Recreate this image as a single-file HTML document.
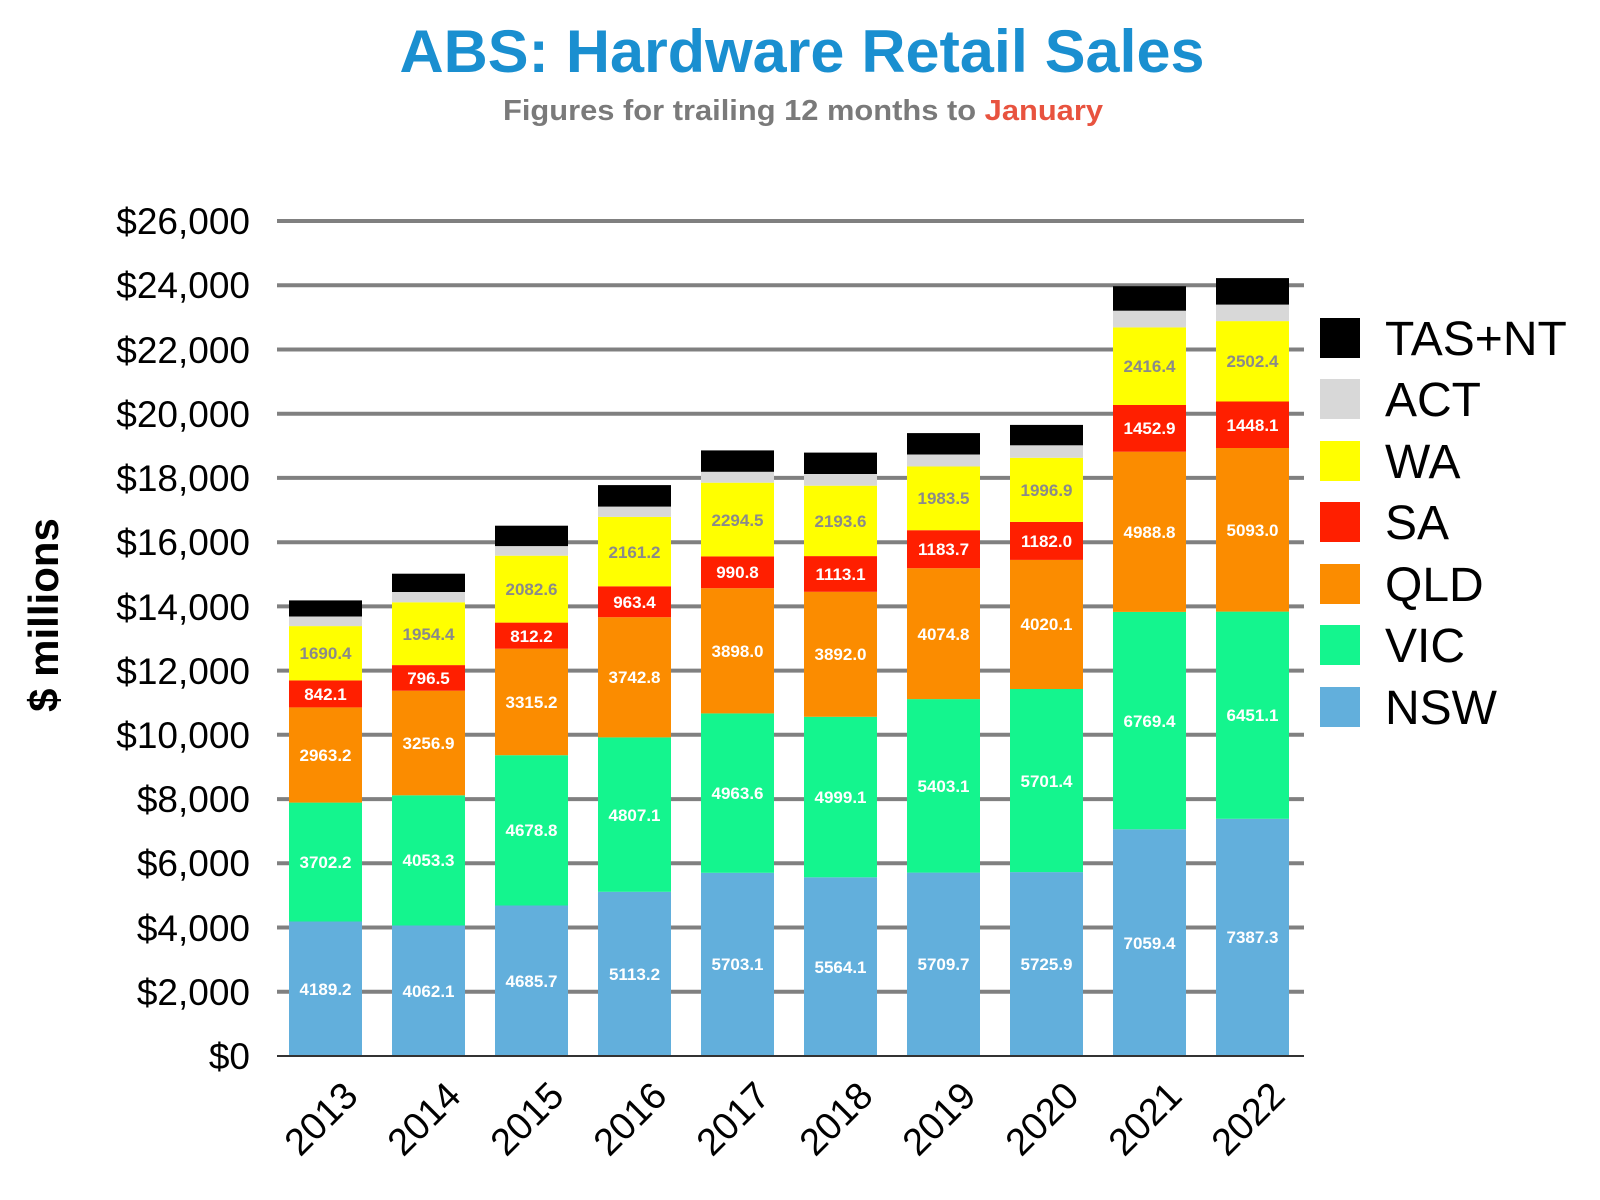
<!DOCTYPE html>
<html><head><meta charset="utf-8"><style>html,body{margin:0;padding:0;background:#fff}svg{display:block}</style></head>
<body>
<svg width="1600" height="1200" xmlns="http://www.w3.org/2000/svg" font-family="Liberation Sans, sans-serif">
<text x="802" y="72" text-anchor="middle" font-size="60" font-weight="bold" fill="#1a8fd0" textLength="805" lengthAdjust="spacingAndGlyphs">ABS: Hardware Retail Sales</text>
<text x="803" y="120" text-anchor="middle" font-size="29" font-weight="bold" fill="#7a7a7a" textLength="600" lengthAdjust="spacingAndGlyphs">Figures for trailing 12 months to <tspan fill="#e8533f">January</tspan></text>
<text transform="translate(58,615) rotate(-90)" text-anchor="middle" font-size="42" font-weight="bold" fill="#000">$ millions</text>
<g stroke="#808080" stroke-width="4">
<line x1="277" x2="1304" y1="991.8" y2="991.8"/><line x1="277" x2="1304" y1="927.5" y2="927.5"/><line x1="277" x2="1304" y1="863.3" y2="863.3"/><line x1="277" x2="1304" y1="799.1" y2="799.1"/><line x1="277" x2="1304" y1="734.8" y2="734.8"/><line x1="277" x2="1304" y1="670.6" y2="670.6"/><line x1="277" x2="1304" y1="606.4" y2="606.4"/><line x1="277" x2="1304" y1="542.2" y2="542.2"/><line x1="277" x2="1304" y1="477.9" y2="477.9"/><line x1="277" x2="1304" y1="413.7" y2="413.7"/><line x1="277" x2="1304" y1="349.5" y2="349.5"/><line x1="277" x2="1304" y1="285.2" y2="285.2"/><line x1="277" x2="1304" y1="221" y2="221"/>
</g>
<g font-size="37" fill="#000" text-anchor="end">
<text x="250" y="1069">$0</text><text x="250" y="1005">$2,000</text><text x="250" y="941">$4,000</text><text x="250" y="876">$6,000</text><text x="250" y="812">$8,000</text><text x="250" y="748">$10,000</text><text x="250" y="684">$12,000</text><text x="250" y="620">$14,000</text><text x="250" y="555">$16,000</text><text x="250" y="491">$18,000</text><text x="250" y="427">$20,000</text><text x="250" y="363">$22,000</text><text x="250" y="298">$24,000</text><text x="250" y="234">$26,000</text>
</g>
<g>
<rect x="289" y="921.5" width="73" height="134.5" fill="#62afdc"/><rect x="289" y="802.6" width="73" height="118.9" fill="#14f58e"/><rect x="289" y="707.4" width="73" height="95.2" fill="#fb8c00"/><rect x="289" y="680.4" width="73" height="27" fill="#ff1f00"/><rect x="289" y="626.1" width="73" height="54.3" fill="#ffff00"/><rect x="289" y="616.5" width="73" height="9.6" fill="#d8d8d8"/><rect x="289" y="600.4" width="73" height="16.1" fill="#000"/>
<rect x="392" y="925.5" width="73" height="130.5" fill="#62afdc"/><rect x="392" y="795.3" width="73" height="130.2" fill="#14f58e"/><rect x="392" y="690.7" width="73" height="104.6" fill="#fb8c00"/><rect x="392" y="665.1" width="73" height="25.6" fill="#ff1f00"/><rect x="392" y="602.3" width="73" height="62.8" fill="#ffff00"/><rect x="392" y="592" width="73" height="10.3" fill="#d8d8d8"/><rect x="392" y="573.7" width="73" height="18.3" fill="#000"/>
<rect x="495" y="905.5" width="73" height="150.5" fill="#62afdc"/><rect x="495" y="755.2" width="73" height="150.3" fill="#14f58e"/><rect x="495" y="648.7" width="73" height="106.5" fill="#fb8c00"/><rect x="495" y="622.6" width="73" height="26.1" fill="#ff1f00"/><rect x="495" y="555.7" width="73" height="66.9" fill="#ffff00"/><rect x="495" y="546.1" width="73" height="9.6" fill="#d8d8d8"/><rect x="495" y="525.7" width="73" height="20.4" fill="#000"/>
<rect x="598" y="891.8" width="73" height="164.2" fill="#62afdc"/><rect x="598" y="737.4" width="73" height="154.4" fill="#14f58e"/><rect x="598" y="617.2" width="73" height="120.2" fill="#fb8c00"/><rect x="598" y="586.3" width="73" height="30.9" fill="#ff1f00"/><rect x="598" y="516.9" width="73" height="69.4" fill="#ffff00"/><rect x="598" y="506.6" width="73" height="10.3" fill="#d8d8d8"/><rect x="598" y="485.1" width="73" height="21.5" fill="#000"/>
<rect x="701" y="872.8" width="73" height="183.2" fill="#62afdc"/><rect x="701" y="713.4" width="73" height="159.4" fill="#14f58e"/><rect x="701" y="588.2" width="73" height="125.2" fill="#fb8c00"/><rect x="701" y="556.4" width="73" height="31.8" fill="#ff1f00"/><rect x="701" y="482.7" width="73" height="73.7" fill="#ffff00"/><rect x="701" y="471.8" width="73" height="10.9" fill="#d8d8d8"/><rect x="701" y="450.4" width="73" height="21.4" fill="#000"/>
<rect x="804" y="877.3" width="73" height="178.7" fill="#62afdc"/><rect x="804" y="716.8" width="73" height="160.5" fill="#14f58e"/><rect x="804" y="591.8" width="73" height="125" fill="#fb8c00"/><rect x="804" y="556.1" width="73" height="35.7" fill="#ff1f00"/><rect x="804" y="485.7" width="73" height="70.4" fill="#ffff00"/><rect x="804" y="474" width="73" height="11.7" fill="#d8d8d8"/><rect x="804" y="452.6" width="73" height="21.4" fill="#000"/>
<rect x="907" y="872.6" width="73" height="183.4" fill="#62afdc"/><rect x="907" y="699.1" width="73" height="173.5" fill="#14f58e"/><rect x="907" y="568.2" width="73" height="130.9" fill="#fb8c00"/><rect x="907" y="530.2" width="73" height="38" fill="#ff1f00"/><rect x="907" y="466.5" width="73" height="63.7" fill="#ffff00"/><rect x="907" y="454.5" width="73" height="12" fill="#d8d8d8"/><rect x="907" y="433.1" width="73" height="21.4" fill="#000"/>
<rect x="1010" y="872.1" width="73" height="183.9" fill="#62afdc"/><rect x="1010" y="689" width="73" height="183.1" fill="#14f58e"/><rect x="1010" y="559.9" width="73" height="129.1" fill="#fb8c00"/><rect x="1010" y="521.9" width="73" height="38" fill="#ff1f00"/><rect x="1010" y="457.8" width="73" height="64.1" fill="#ffff00"/><rect x="1010" y="445.3" width="73" height="12.5" fill="#d8d8d8"/><rect x="1010" y="424.9" width="73" height="20.4" fill="#000"/>
<rect x="1113" y="829.3" width="73" height="226.7" fill="#62afdc"/><rect x="1113" y="611.9" width="73" height="217.4" fill="#14f58e"/><rect x="1113" y="451.7" width="73" height="160.2" fill="#fb8c00"/><rect x="1113" y="405" width="73" height="46.7" fill="#ff1f00"/><rect x="1113" y="327.4" width="73" height="77.6" fill="#ffff00"/><rect x="1113" y="310.7" width="73" height="16.7" fill="#d8d8d8"/><rect x="1113" y="286.2" width="73" height="24.5" fill="#000"/>
<rect x="1216" y="818.8" width="73" height="237.2" fill="#62afdc"/><rect x="1216" y="611.6" width="73" height="207.2" fill="#14f58e"/><rect x="1216" y="448" width="73" height="163.6" fill="#fb8c00"/><rect x="1216" y="401.5" width="73" height="46.5" fill="#ff1f00"/><rect x="1216" y="321.1" width="73" height="80.4" fill="#ffff00"/><rect x="1216" y="304.6" width="73" height="16.5" fill="#d8d8d8"/><rect x="1216" y="278.1" width="73" height="26.5" fill="#000"/>
</g>
<line x1="277" x2="1304" y1="1056" y2="1056" stroke="#333" stroke-width="2"/>
<g font-size="17" font-weight="bold" text-anchor="middle" fill="#fff">
<text x="325.5" y="995">4189.2</text><text x="325.5" y="868">3702.2</text><text x="325.5" y="761">2963.2</text><text x="325.5" y="700">842.1</text>
<text x="428.5" y="997">4062.1</text><text x="428.5" y="866">4053.3</text><text x="428.5" y="749">3256.9</text><text x="428.5" y="684">796.5</text>
<text x="531.5" y="987">4685.7</text><text x="531.5" y="836">4678.8</text><text x="531.5" y="708">3315.2</text><text x="531.5" y="642">812.2</text>
<text x="634.5" y="980">5113.2</text><text x="634.5" y="821">4807.1</text><text x="634.5" y="683">3742.8</text><text x="634.5" y="608">963.4</text>
<text x="737.5" y="970">5703.1</text><text x="737.5" y="799">4963.6</text><text x="737.5" y="657">3898.0</text><text x="737.5" y="578">990.8</text>
<text x="840.5" y="973">5564.1</text><text x="840.5" y="803">4999.1</text><text x="840.5" y="660">3892.0</text><text x="840.5" y="580">1113.1</text>
<text x="943.5" y="970">5709.7</text><text x="943.5" y="792">5403.1</text><text x="943.5" y="640">4074.8</text><text x="943.5" y="555">1183.7</text>
<text x="1046.5" y="970">5725.9</text><text x="1046.5" y="787">5701.4</text><text x="1046.5" y="630">4020.1</text><text x="1046.5" y="547">1182.0</text>
<text x="1149.5" y="949">7059.4</text><text x="1149.5" y="727">6769.4</text><text x="1149.5" y="538">4988.8</text><text x="1149.5" y="434">1452.9</text>
<text x="1252.5" y="943">7387.3</text><text x="1252.5" y="721">6451.1</text><text x="1252.5" y="536">5093.0</text><text x="1252.5" y="431">1448.1</text>
</g>
<g font-size="17" font-weight="bold" text-anchor="middle" fill="#8a8a8a">
<text x="325.5" y="659">1690.4</text><text x="428.5" y="640">1954.4</text><text x="531.5" y="595">2082.6</text><text x="634.5" y="558">2161.2</text><text x="737.5" y="526">2294.5</text><text x="840.5" y="527">2193.6</text><text x="943.5" y="504">1983.5</text><text x="1046.5" y="496">1996.9</text><text x="1149.5" y="372">2416.4</text><text x="1252.5" y="367">2502.4</text>
</g>
<g font-size="38" fill="#000" text-anchor="end">
<text transform="translate(360,1098) rotate(-45)">2013</text>
<text transform="translate(463,1098) rotate(-45)">2014</text>
<text transform="translate(566,1098) rotate(-45)">2015</text>
<text transform="translate(669,1098) rotate(-45)">2016</text>
<text transform="translate(772,1098) rotate(-45)">2017</text>
<text transform="translate(875,1098) rotate(-45)">2018</text>
<text transform="translate(978,1098) rotate(-45)">2019</text>
<text transform="translate(1081,1098) rotate(-45)">2020</text>
<text transform="translate(1184,1098) rotate(-45)">2021</text>
<text transform="translate(1287,1098) rotate(-45)">2022</text>
</g>
<g>
<rect x="1320" y="318" width="40" height="40" fill="#000"/>
<rect x="1320" y="379" width="40" height="40" fill="#d8d8d8"/>
<rect x="1320" y="441" width="40" height="40" fill="#ffff00"/>
<rect x="1320" y="502" width="40" height="40" fill="#ff1f00"/>
<rect x="1320" y="564" width="40" height="40" fill="#fb8c00"/>
<rect x="1320" y="625" width="40" height="40" fill="#14f58e"/>
<rect x="1320" y="687" width="40" height="40" fill="#62afdc"/>
</g>
<g font-size="48" fill="#000">
<text x="1385" y="355">TAS+NT</text>
<text x="1385" y="416">ACT</text>
<text x="1385" y="478">WA</text>
<text x="1385" y="539">SA</text>
<text x="1385" y="601">QLD</text>
<text x="1385" y="662">VIC</text>
<text x="1385" y="724">NSW</text>
</g>
</svg>
</body></html>
